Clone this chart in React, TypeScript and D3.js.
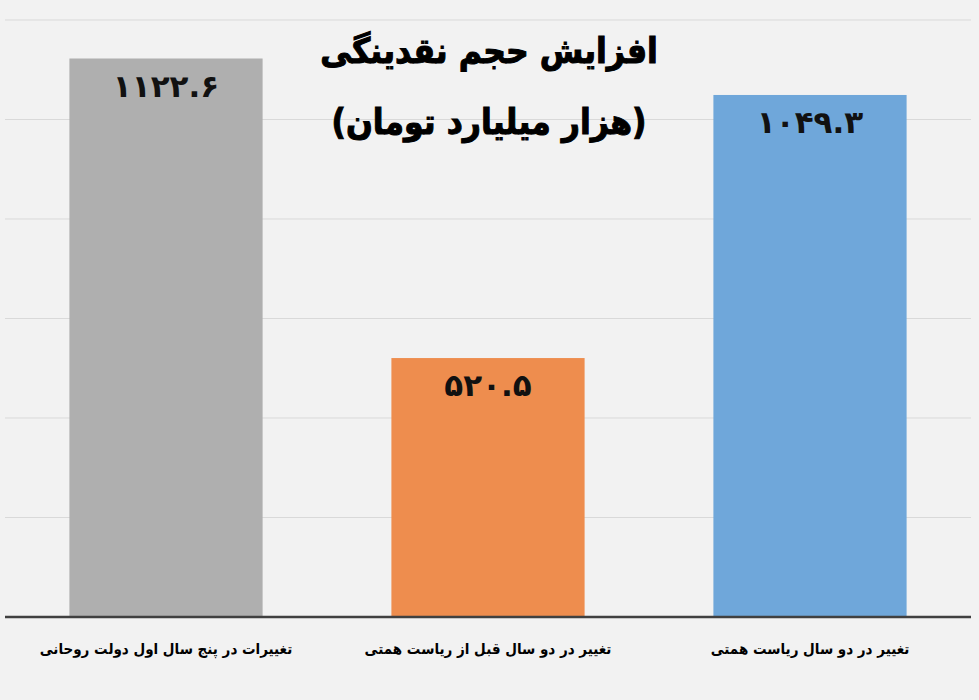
import * as d3 from "d3";

const categories = [
  "تغییرات در پنج سال اول دولت روحانی",
  "تغییر در دو سال قبل از ریاست همتی",
  "تغییر در دو سال ریاست همتی",
];
const values = [1122.6, 520.5, 1049.3];
const valueLabels = ["۱۱۲۲.۶", "۵۲۰.۵", "۱۰۴۹.۳"];
const colors = ["#afafaf", "#ee8d4e", "#6fa7da"];
const titleLines = ["افزایش حجم نقدینگی", "(هزار میلیارد تومان)"];

const WIDTH = 979;
const HEIGHT = 700;
const PLOT_LEFT = 5;
const PLOT_RIGHT = 971;
const PLOT_TOP = 20;
const PLOT_BOTTOM = 617;
const FONT = "'DejaVu Sans', sans-serif";
const FONT_NARROW = "'DejaVu Sans Condensed', 'DejaVu Sans', sans-serif";

const App = () => {
  const x = d3
    .scaleBand<string>()
    .domain(categories)
    .range([PLOT_LEFT, PLOT_RIGHT])
    .paddingInner(0.4)
    .paddingOuter(0.2);

  const y = d3.scaleLinear().domain([0, 1200]).range([PLOT_BOTTOM, PLOT_TOP]);
  const ticks = y.ticks(6).filter((t) => t > 0);

  return (
    <svg
      width={WIDTH}
      height={HEIGHT}
      style={{ position: "absolute", left: 0, top: 0, display: "block" }}
    >
      <rect width={WIDTH} height={HEIGHT} fill="#f2f2f2" />
      {/* gridlines */}
      {ticks.map((t) => (
        <line
          key={t}
          x1={PLOT_LEFT}
          x2={PLOT_RIGHT}
          y1={y(t)}
          y2={y(t)}
          stroke="#d9d9d9"
          strokeWidth={1}
        />
      ))}
      {/* bars */}
      {categories.map((c, i) => (
        <g key={c}>
          <rect
            x={x(c)}
            y={y(values[i])}
            width={x.bandwidth()}
            height={PLOT_BOTTOM - y(values[i])}
            fill={colors[i]}
          />
          <text
            x={(x(c) as number) + x.bandwidth() / 2}
            y={y(values[i]) + 38}
            textAnchor="middle"
            fontFamily={FONT}
            fontSize={31}
            fontWeight={700}
            letterSpacing={6}
            fill="#111"
          >
            {valueLabels[i]}
          </text>
          <text
            x={(x(c) as number) + x.bandwidth() / 2}
            y={654}
            textAnchor="middle"
            direction="rtl"
            fontFamily={FONT_NARROW}
            fontSize={15}
            fontWeight={700}
            fill="#000"
          >
            {c}
          </text>
        </g>
      ))}
      {/* baseline */}
      <line
        x1={PLOT_LEFT}
        x2={PLOT_RIGHT}
        y1={PLOT_BOTTOM}
        y2={PLOT_BOTTOM}
        stroke="#404040"
        strokeWidth={2.5}
      />
      {/* title */}
      {titleLines.map((line, i) => (
        <text
          key={i}
          x={489}
          y={63 + i * 71}
          textAnchor="middle"
          direction="rtl"
          fontFamily={FONT_NARROW}
          fontSize={35}
          fontWeight={700}
          fill="#000"
          stroke="#000"
          strokeWidth={1}
        >
          {line}
        </text>
      ))}
    </svg>
  );
};

export default App;
